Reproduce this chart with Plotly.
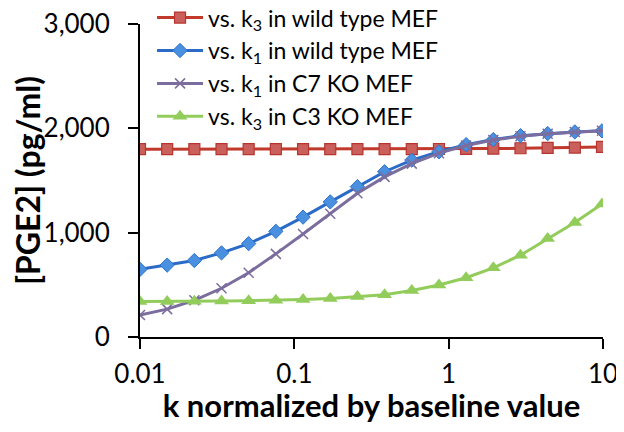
import plotly.graph_objects as go

# k values (normalized): 0.01 * 1.5^n, n = 0..17
k_values = [0.01, 0.015, 0.0225, 0.03375, 0.0506, 0.0759, 0.1139, 0.1709, 0.2563,
            0.3844, 0.5767, 0.8650, 1.2975, 1.9462, 2.9193, 4.3789, 6.5684, 9.8526]

series_names = [
    "vs. k<sub>3</sub> in wild type MEF",
    "vs. k<sub>1</sub> in wild type MEF",
    "vs. k<sub>1</sub> in C7 KO MEF",
    "vs. k<sub>3</sub> in C3 KO MEF",
]

k3_wild = [1800, 1800, 1800, 1800, 1800, 1800, 1800, 1800, 1800,
           1800, 1801, 1802, 1804, 1806, 1809, 1812, 1816, 1822]
k1_wild = [648, 689, 733, 806, 895, 1013, 1149, 1295, 1441,
           1584, 1695, 1775, 1844, 1892, 1930, 1950, 1966, 1976]
k1_c7ko = [210, 267, 352, 467, 616, 797, 987, 1181, 1378,
           1535, 1662, 1762, 1835, 1888, 1925, 1948, 1965, 1976]
k3_c3ko = [340, 340, 343, 345, 348, 352, 360, 370, 387,
           405, 445, 498, 568, 663, 784, 943, 1098, 1275]

x_tick_vals = [0.01, 0.1, 1, 10]
x_tick_text = ["0.01", "0.1", "1", "10"]
y_tick_vals = [0, 1000, 2000, 3000]

FONT = "Lato, Carlito, Calibri, sans-serif"

fig = go.Figure()
fig.add_trace(go.Scatter(
    x=k_values, y=k3_wild, name=series_names[0], mode="lines+markers",
    line=dict(color="#C0392B", width=3),
    marker=dict(symbol="square", size=11, color="#C9605C",
                line=dict(color="#B8352F", width=1.2)),
))
fig.add_trace(go.Scatter(
    x=k_values, y=k1_wild, name=series_names[1], mode="lines+markers",
    line=dict(color="#2A6BC8", width=3),
    marker=dict(symbol="diamond", size=11, color="#4A90E0",
                line=dict(color="#2F72C8", width=1)),
))
fig.add_trace(go.Scatter(
    x=k_values, y=k1_c7ko, name=series_names[2], mode="lines+markers",
    line=dict(color="#7B6D9E", width=3),
    marker=dict(symbol="x-thin", size=10, color="#7B6D9E",
                line=dict(color="#7B6D9E", width=1.5)),
))
fig.add_trace(go.Scatter(
    x=k_values, y=k3_c3ko, name=series_names[3], mode="lines+markers",
    line=dict(color="#92CC5A", width=3),
    marker=dict(symbol="triangle-up", size=13, color="#92CC5A",
                line=dict(color="#92CC5A", width=0)),
))

fig.update_layout(
    width=608, height=416,
    margin=dict(l=132, r=13, t=16, b=87, autoexpand=False),
    paper_bgcolor="white", plot_bgcolor="white",
    font=dict(family=FONT, color="black", size=22),
    showlegend=True,
    legend=dict(
        x=0.026, y=1.089, xanchor="left", yanchor="top",
        font=dict(family=FONT, size=23, color="black"),
        bgcolor="rgba(0,0,0,0)", itemwidth=46,
    ),
    xaxis=dict(
        type="log", range=[-2, 1],
        tickvals=x_tick_vals, ticktext=x_tick_text, tickangle=0,
        showgrid=False, zeroline=False,
        showline=True, linecolor="black", linewidth=2,
        ticks="outside", ticklen=10, tickwidth=2, tickcolor="black",
        tickfont=dict(family=FONT, size=26), ticklabelstandoff=3,
        ticklabeloverflow="allow",
        title=dict(text="<b>k normalized by baseline value</b>",
                   font=dict(family=FONT, size=31), standoff=5),
    ),
    yaxis=dict(
        range=[0, 3000], tickvals=y_tick_vals, tickformat=",",
        showgrid=False, zeroline=False,
        showline=True, linecolor="black", linewidth=2,
        ticks="outside", ticklen=10, tickwidth=2, tickcolor="black",
        tickfont=dict(family=FONT, size=26), ticklabelstandoff=13,
        ticklabeloverflow="allow",
        title=dict(text="<b>[PGE2] (pg/ml)</b>",
                   font=dict(family=FONT, size=32), standoff=24),
    ),
)

fig.write_html("out.html")
